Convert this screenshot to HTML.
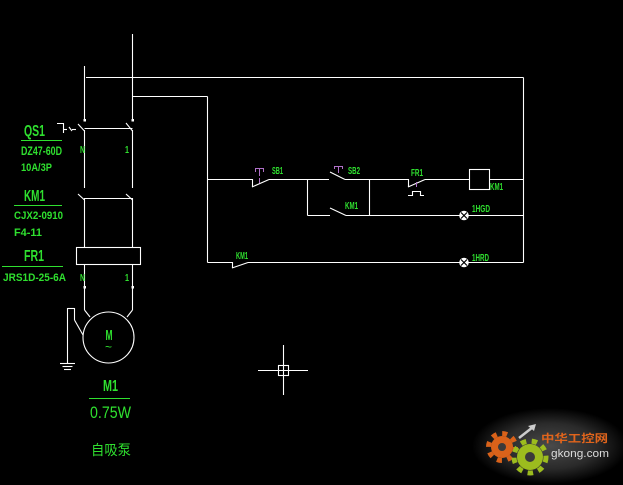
<!DOCTYPE html>
<html><head><meta charset="utf-8"><style>
html,body{margin:0;padding:0;background:#000;}
svg{display:block;}
text{font-family:"Liberation Sans Narrow","Liberation Sans",sans-serif;font-weight:bold;fill:#2fe02f;}
</style></head><body>
<svg width="623" height="485" viewBox="0 0 623 485" xmlns="http://www.w3.org/2000/svg">
<defs>
<radialGradient id="glow" cx="0.5" cy="0.5" r="0.5">
<stop offset="0" stop-color="#4a4a4a"/><stop offset="0.6" stop-color="#2a2a2a"/><stop offset="1" stop-color="#000"/>
</radialGradient>
</defs>
<rect width="623" height="485" fill="#000"/>
<g stroke="#fff" stroke-width="1.1" fill="none">
<!-- power lines -->
<line x1="84.5" y1="66" x2="84.5" y2="120"/>
<line x1="86" y1="77.5" x2="523.5" y2="77.5"/>
<line x1="132.5" y1="34" x2="132.5" y2="120"/>
<line x1="132.5" y1="96.5" x2="207.5" y2="96.5"/>
<line x1="207.5" y1="96.5" x2="207.5" y2="262.5"/>
<line x1="523.5" y1="77.5" x2="523.5" y2="262.5"/>
<!-- QS1 -->
<line x1="78" y1="124" x2="84.5" y2="131"/>
<line x1="126" y1="123" x2="132.5" y2="131"/>
<line x1="84.5" y1="128.5" x2="132.5" y2="128.5"/>
<line x1="84.5" y1="130" x2="84.5" y2="188"/>
<line x1="132.5" y1="130" x2="132.5" y2="188"/>
<polyline points="57,123.5 63.5,123.5 63.5,133"/>
<line x1="63" y1="129.5" x2="67" y2="129.5"/>
<line x1="69" y1="127" x2="72" y2="131"/>
<line x1="72" y1="129.5" x2="76" y2="129.5"/>
<!-- KM1 main -->
<line x1="78" y1="194" x2="84.5" y2="200"/>
<line x1="126" y1="194" x2="132.5" y2="200"/>
<line x1="84.5" y1="198.5" x2="132.5" y2="198.5"/>
<line x1="84.5" y1="198" x2="84.5" y2="247"/>
<line x1="132.5" y1="198" x2="132.5" y2="247"/>
<!-- FR1 box -->
<rect x="76.5" y="247.5" width="64" height="17"/>
<line x1="84.5" y1="264" x2="84.5" y2="310"/>
<line x1="132.5" y1="264" x2="132.5" y2="310"/>
<line x1="84.5" y1="310" x2="90" y2="317"/>
<line x1="132.5" y1="310" x2="127" y2="317"/>
<circle cx="108.5" cy="337.5" r="25.5"/>
<!-- ground -->
<line x1="67.5" y1="308" x2="67.5" y2="363"/>
<line x1="67.5" y1="308.5" x2="74.5" y2="308.5"/>
<line x1="74.5" y1="308" x2="74.5" y2="320"/>
<line x1="74.5" y1="320" x2="83" y2="335"/>
<line x1="60" y1="363.5" x2="75" y2="363.5"/>
<line x1="62.5" y1="366.5" x2="72.5" y2="366.5"/>
<line x1="64" y1="369.5" x2="71" y2="369.5"/>
<!-- control line 1 -->
<line x1="207.5" y1="179.5" x2="252.5" y2="179.5"/>
<line x1="252.5" y1="179" x2="252.5" y2="187"/>
<line x1="252" y1="187" x2="269" y2="179.5"/>
<line x1="269" y1="179.5" x2="329" y2="179.5"/>
<line x1="330" y1="172" x2="345" y2="179.5"/>
<line x1="345" y1="179.5" x2="408.5" y2="179.5"/>
<line x1="408.5" y1="179" x2="408.5" y2="187"/>
<line x1="408" y1="187" x2="425" y2="179.5"/>
<line x1="425" y1="179.5" x2="469.5" y2="179.5"/>
<rect x="469.5" y="169.5" width="20" height="20"/>
<line x1="489.5" y1="179.5" x2="523.5" y2="179.5"/>
<polyline points="408,195.5 412.5,195.5 412.5,191.5 420.5,191.5 420.5,195.5 424,195.5"/>
<!-- branch -->
<line x1="307.5" y1="179.5" x2="307.5" y2="215.5"/>
<line x1="369.5" y1="179.5" x2="369.5" y2="215.5"/>
<line x1="307.5" y1="215.5" x2="330" y2="215.5"/>
<line x1="330" y1="208" x2="346" y2="215.5"/>
<line x1="346" y1="215.5" x2="523.5" y2="215.5"/>
<!-- bottom -->
<line x1="207.5" y1="262.5" x2="232.5" y2="262.5"/>
<line x1="232.5" y1="262" x2="232.5" y2="268"/>
<line x1="232" y1="268" x2="248" y2="262.5"/>
<line x1="248" y1="262.5" x2="523.5" y2="262.5"/>
<!-- crosshair -->
<line x1="258" y1="370.5" x2="308" y2="370.5"/>
<line x1="283.5" y1="345" x2="283.5" y2="395"/>
<rect x="278.5" y="365.5" width="10" height="10"/>
</g>
<!-- dots -->
<g fill="#fff">
<rect x="83.5" y="119" width="2.5" height="2.5"/>
<rect x="131.5" y="119" width="2.5" height="2.5"/>
<rect x="83.5" y="286" width="2.5" height="2.5"/>
<rect x="131.5" y="286" width="2.5" height="2.5"/>
<circle cx="464" cy="215.5" r="4.8"/>
<circle cx="464" cy="262.5" r="4.8"/>
</g>
<g stroke="#000" stroke-width="1.2">
<line x1="461" y1="212.5" x2="467" y2="218.5"/><line x1="467" y1="212.5" x2="461" y2="218.5"/>
<line x1="461" y1="259.5" x2="467" y2="265.5"/><line x1="467" y1="259.5" x2="461" y2="265.5"/>
</g>
<!-- purple buttons -->
<g stroke="#b070c8" stroke-width="1" fill="none">
<polyline points="255.5,172 255.5,168.5 263.5,168.5 263.5,172"/>
<line x1="259.5" y1="169" x2="259.5" y2="176"/>
<line x1="259.5" y1="178" x2="259.5" y2="183"/>
<polyline points="334.5,169 334.5,166.5 342.5,166.5 342.5,169"/>
<line x1="338.5" y1="167" x2="338.5" y2="173"/>
<line x1="416.5" y1="182" x2="416.5" y2="187"/>
</g>
<g stroke="#2fe02f" stroke-width="1.1">
<line x1="21" y1="140.5" x2="62" y2="140.5"/>
<line x1="14" y1="205.5" x2="62" y2="205.5"/>
<line x1="2" y1="266.5" x2="63" y2="266.5"/>
<line x1="89" y1="398.5" x2="130" y2="398.5"/>
</g>
<!-- labels -->
<text x="24" y="136" font-size="16" textLength="21" lengthAdjust="spacingAndGlyphs">QS1</text>
<text x="21" y="155" font-size="12" textLength="41" lengthAdjust="spacingAndGlyphs">DZ47-60D</text>
<text x="21" y="171" font-size="11" textLength="31" lengthAdjust="spacingAndGlyphs">10A/3P</text>
<text x="24" y="201" font-size="16" textLength="21" lengthAdjust="spacingAndGlyphs">KM1</text>
<text x="14" y="219" font-size="11" textLength="49" lengthAdjust="spacingAndGlyphs">CJX2-0910</text>
<text x="14" y="236" font-size="11" textLength="28" lengthAdjust="spacingAndGlyphs">F4-11</text>
<text x="24" y="261" font-size="16" textLength="20" lengthAdjust="spacingAndGlyphs">FR1</text>
<text x="3" y="281" font-size="11" textLength="63" lengthAdjust="spacingAndGlyphs">JRS1D-25-6A</text>
<text x="80" y="153" font-size="10" textLength="5" lengthAdjust="spacingAndGlyphs">N</text>
<text x="125" y="153" font-size="10" textLength="4" lengthAdjust="spacingAndGlyphs">1</text>
<text x="80" y="281" font-size="10" textLength="5" lengthAdjust="spacingAndGlyphs">N</text>
<text x="125" y="281" font-size="10" textLength="4" lengthAdjust="spacingAndGlyphs">1</text>
<text x="105.5" y="340" font-size="15" textLength="7" lengthAdjust="spacingAndGlyphs">M</text>
<text x="108.5" y="351" font-size="12" text-anchor="middle" style="font-weight:normal">~</text>
<text x="103" y="391" font-size="16" textLength="15" lengthAdjust="spacingAndGlyphs">M1</text>
<text x="90" y="418" font-size="17" textLength="41" lengthAdjust="spacingAndGlyphs" style="font-weight:normal">0.75W</text>
<text x="91" y="455" font-size="14" textLength="40" lengthAdjust="spacingAndGlyphs" style="font-family:'Noto Sans CJK SC',sans-serif;font-weight:normal">自吸泵</text>
<text x="272" y="174" font-size="10" textLength="11" lengthAdjust="spacingAndGlyphs">SB1</text>
<text x="348" y="174" font-size="10" textLength="12" lengthAdjust="spacingAndGlyphs">SB2</text>
<text x="345" y="209" font-size="10" textLength="13" lengthAdjust="spacingAndGlyphs">KM1</text>
<text x="236" y="259" font-size="10" textLength="12" lengthAdjust="spacingAndGlyphs">KM1</text>
<text x="411" y="176" font-size="10" textLength="12" lengthAdjust="spacingAndGlyphs">FR1</text>
<text x="490" y="190" font-size="10" textLength="13" lengthAdjust="spacingAndGlyphs">KM1</text>
<text x="472" y="212" font-size="10" textLength="18" lengthAdjust="spacingAndGlyphs">1HGD</text>
<text x="472" y="261" font-size="10" textLength="17" lengthAdjust="spacingAndGlyphs">1HRD</text>
<!-- watermark -->
<ellipse cx="550" cy="446" rx="78" ry="38" fill="url(#glow)"/>
<g>
<circle cx="502" cy="447" r="11" fill="#d9621a"/>
<circle cx="502" cy="447" r="13.5" fill="none" stroke="#d9621a" stroke-width="5" stroke-dasharray="5 5.6"/>
<circle cx="502" cy="447" r="4" fill="#3a3a3a"/>
<circle cx="530" cy="457" r="13" fill="#9cbc1e"/>
<circle cx="530" cy="457" r="16" fill="none" stroke="#9cbc1e" stroke-width="5" stroke-dasharray="5.5 5.5"/>
<circle cx="530" cy="457" r="5" fill="#3a3a3a"/>
<line x1="519" y1="438" x2="533" y2="427" stroke="#ccc" stroke-width="2.5"/>
<polygon points="536,424 528,426 534,431" fill="#ccc"/>
</g>
<text x="541" y="442" font-size="11" textLength="67" lengthAdjust="spacingAndGlyphs" style="fill:#e0641c;font-family:'Noto Sans CJK SC',sans-serif">中华工控网</text>
<text x="551" y="457" font-size="11" textLength="58" lengthAdjust="spacingAndGlyphs" style="fill:#dcdcdc;font-family:'Liberation Sans',sans-serif;font-weight:normal">gkong.com</text>
</svg>
</body></html>
